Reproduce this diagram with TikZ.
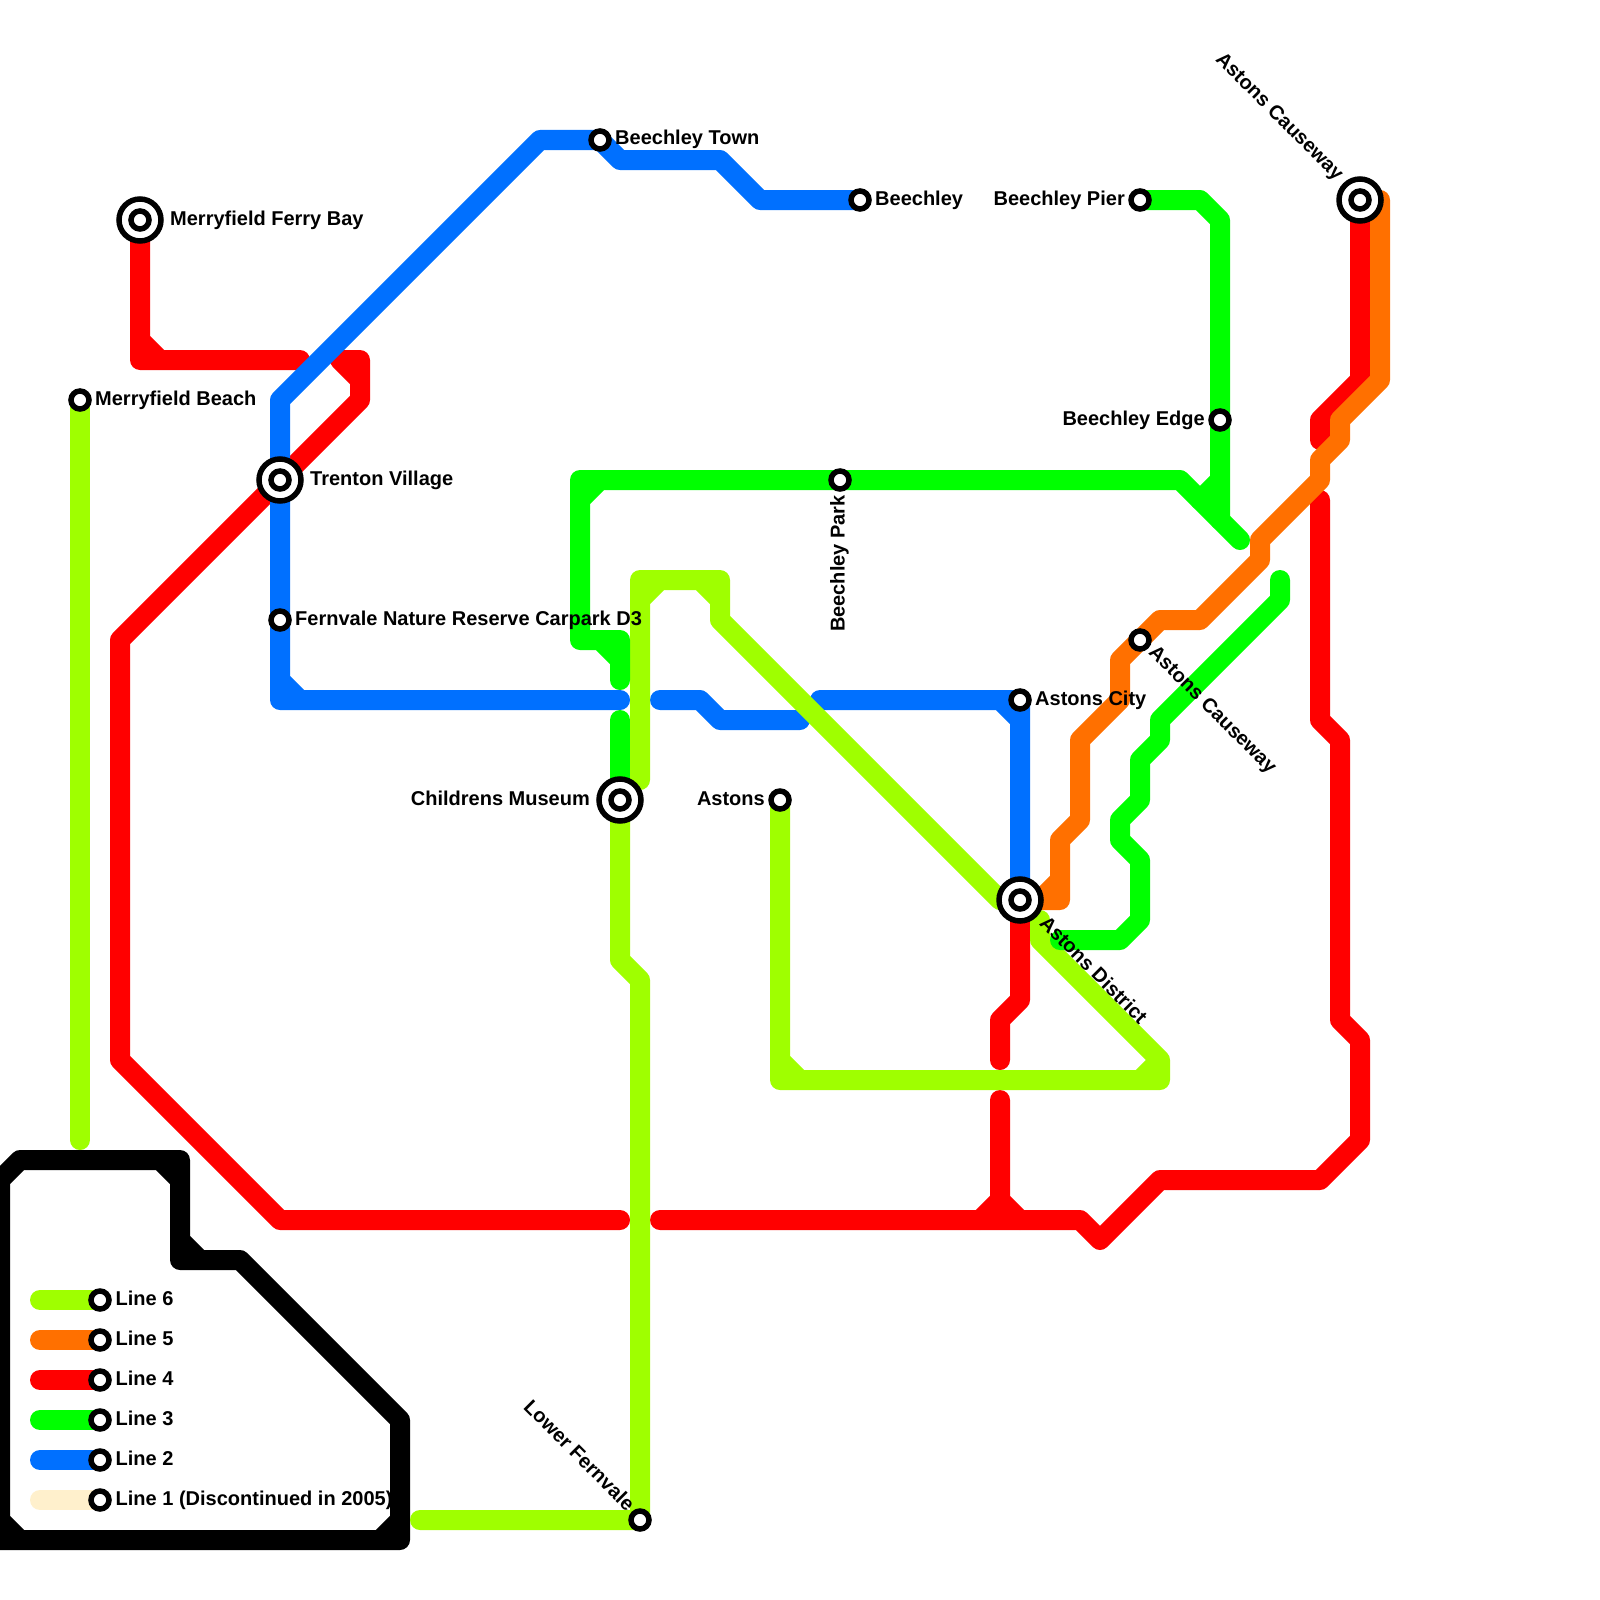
\documentclass[tikz,border=0pt]{standalone}
\usepackage{fontspec}
\setmainfont{Liberation Sans}
\usepackage{tikz}

\definecolor{colsix}{HTML}{9FFF00}
\definecolor{colfive}{HTML}{FF7000}
\definecolor{colfour}{HTML}{FF0000}
\definecolor{colthree}{HTML}{00FF00}
\definecolor{coltwo}{HTML}{0070FF}
\definecolor{colone}{HTML}{FFF0CC}

\tikzset{
  metro/.style={line width=20pt,line cap=round,line join=round},
  linesix/.style={metro,colsix},
  linefive/.style={metro,colfive},
  linefour/.style={metro,colfour},
  linethree/.style={metro,colthree},
  linetwo/.style={metro,coltwo},
  lineone/.style={metro,colone},
  frame/.style={metro,black},
  station/.style={circle,draw=black,fill=white,line width=5.5pt,minimum size=18pt,inner sep=0pt},
  hub/.style={circle,draw=black,fill=white,line width=5.5pt,minimum size=42pt,inner sep=0pt},
  stationtext/.style={font=\bfseries\fontsize{20pt}{20pt}\selectfont,inner sep=0pt,text=black}
}

\begin{document}
\begin{tikzpicture}[x=1pt,y=-1pt]
        \useasboundingbox (0,0) rectangle (1600,1600);
        \coordinate (ferrybay) at (140,220);
        \coordinate (beach) at (80,400);
        \coordinate (trenton) at (280,480);
        \coordinate (fernvale) at (280,620);
        \coordinate (town) at (600,140);
        \coordinate (beechley) at (860,200);
        \coordinate (pier) at (1140,200);
        \coordinate (edge) at (1220,420);
        \coordinate (park) at (840,480);
        \coordinate (city) at (1020,700);
        \coordinate (causeway) at (1140,640);
        \coordinate (causewaytop) at (1360,200);
        \coordinate (district) at (1020,900);
        \coordinate (astons) at (780,800);
        \coordinate (museum) at (620,800);
        \coordinate (lower) at (640,1520);
        \coordinate (keysix) at (100,1300);
        \coordinate (keyfive) at (100,1340);
        \coordinate (keyfour) at (100,1380);
        \coordinate (keythree) at (100,1420);
        \coordinate (keytwo) at (100,1460);
        \coordinate (keyone) at (100,1500);
        \draw [frame] (0,1180) -- (20,1160) -- (180,1160) -- (180,1260) -- (240,1260) -- (400,1420) -- (400,1540) -- (0,1540) -- cycle
          (160,1160) -- (180,1180) (180,1240) -- (200,1260) (400,1520) -- (380,1540) (0,1520) -- (20,1540);
        \draw [linefour] (ferrybay) -- (140,360) -- (300,360) (140,340) -- (160,360);
        \draw [linefour] (340,360) -- (360,360) -- (360,400) -- (120,640) -- (120,1060) -- (280,1220) -- (620,1220) (340,360) -- (360,380);
        \draw [linefour] (660,1220) -- (1080,1220) -- (1100,1240) -- (1160,1180) -- (1320,1180) -- (1360,1140) -- (1360,1040) -- (1340,1020) -- (1340,740) -- (1320,720) -- (1320,500);
        \draw [linefour] (1000,1100) -- (1000,1200) -- (980,1220) (1000,1200) -- (1020,1220);
        \draw [linefour] (district) -- (1020,1000) -- (1000,1020) -- (1000,1060);
        \draw [linefour] (causewaytop) -- (1360,380) -- (1320,420) -- (1320,440);
        \draw [linetwo] (beechley) -- (760,200) -- (720,160) -- (620,160) -- (town) -- (540,140) -- (280,400) -- (280,700) -- (620,700) (280,680) -- (300,700);
        \draw [linetwo] (660,700) -- (700,700) -- (720,720) -- (800,720);
        \draw [linetwo] (820,700) -- (city) -- (district) (1000,700) -- (1020,720);
        \draw [linefive] (causewaytop) -- (1380,200) -- (1380,380) -- (1340,420) -- (1340,440) -- (1320,460) -- (1320,480) -- (1260,540) -- (1260,560) -- (1200,620) -- (1160,620) -- (1120,660) -- (1120,700) -- (1080,740) -- (1080,820) -- (1060,840) -- (1060,900) -- (district) (1040,900) -- (1060,880);
        \draw [linesix] (beach) -- (80,1140);
        \draw [linesix] (420,1520) -- (lower) -- (640,980) -- (620,960) -- (museum);
        \draw [linesix] (640,780) -- (640,580) -- (720,580) -- (720,620) -- (1000,900)
          (640,600) -- (660,580) (700,580) -- (720,600);
        \draw [linesix] (1040,920) -- (1040,940) -- (1160,1060) -- (1160,1080) -- (780,1080) -- (astons)
          (1140,1080) -- (1160,1060) (780,1060) -- (800,1080);
        \draw [linethree] (pier) -- (1200,200) -- (1220,220) -- (1220,520) (1200,500) -- (1220,480);
        \draw [linethree] (1240,540) -- (1180,480) -- (580,480) -- (580,640) -- (620,640) -- (620,680) (580,500) -- (600,480) (600,640) -- (620,660);
        \draw [linethree] (620,720) -- (museum);
        \draw [linethree] (1280,580) -- (1280,600) -- (1160,720) -- (1160,740) -- (1140,760) -- (1140,800) -- (1120,820) -- (1120,840) -- (1140,860) -- (1140,920) -- (1120,940) -- (1060,940);
        \draw [linesix] (40,1300) -- (keysix);
        \draw [linefive] (40,1340) -- (keyfive);
        \draw [linefour] (40,1380) -- (keyfour);
        \draw [linethree] (40,1420) -- (keythree);
        \draw [linetwo] (40,1460) -- (keytwo);
        \draw [lineone] (40,1500) -- (keyone);
        \node [hub] (nferrybay) at (ferrybay) {};
        \node [station] (nferrybayin) at (ferrybay) {};
        \node [hub] (ntrenton) at (trenton) {};
        \node [station] (ntrentonin) at (trenton) {};
        \node [hub] (ncausewaytop) at (causewaytop) {};
        \node [station] (ncausewaytopin) at (causewaytop) {};
        \node [hub] (ndistrict) at (district) {};
        \node [station] (ndistrictin) at (district) {};
        \node [hub] (nmuseum) at (museum) {};
        \node [station] (nmuseumin) at (museum) {};
        \node [station] (nbeach) at (beach) {};
        \node [station] (nfernvale) at (fernvale) {};
        \node [station] (ntown) at (town) {};
        \node [station] (nbeechley) at (beechley) {};
        \node [station] (npier) at (pier) {};
        \node [station] (nedge) at (edge) {};
        \node [station] (npark) at (park) {};
        \node [station] (ncity) at (city) {};
        \node [station] (ncauseway) at (causeway) {};
        \node [station] (nastons) at (astons) {};
        \node [station] (nlower) at (lower) {};
        \node [station] (nkeysix) at (keysix) {};
        \node [station] (nkeyfive) at (keyfive) {};
        \node [station] (nkeyfour) at (keyfour) {};
        \node [station] (nkeythree) at (keythree) {};
        \node [station] (nkeytwo) at (keytwo) {};
        \node [station] (nkeyone) at (keyone) {};
        \node [stationtext,anchor=base west] (tferrybay) at (170,225) {Merryfield Ferry Bay};
        \node [stationtext,anchor=base west] (tbeach) at (95,405) {Merryfield Beach};
        \node [stationtext,anchor=base west] (ttrenton) at (310,485) {Trenton Village};
        \node [stationtext,anchor=base west] (tfernvale) at (295,625) {Fernvale Nature Reserve Carpark D3};
        \node [stationtext,anchor=base west] (ttown) at (615,145) {Beechley Town};
        \node [stationtext,anchor=base west] (tbeechley) at (875,205) {Beechley};
        \node [stationtext,anchor=base east] (tpier) at (1125,205) {Beechley Pier};
        \node [stationtext,anchor=base east] (tedge) at (1205,425) {Beechley Edge};
        \node [stationtext,anchor=base west] (tcity) at (1035,705) {Astons City};
        \node [stationtext,anchor=base east] (tastons) at (765,805) {Astons};
        \node [stationtext,anchor=base east] (tmuseum) at (590,805) {Childrens Museum};
        \node [stationtext,anchor=base east,rotate=90] (tpark) at (844.5,495) {Beechley Park};
        \node [stationtext,anchor=base west,rotate=-45] (tcauseway) at (1147.8,653.4) {Astons Causeway};
        \node [stationtext,anchor=base west,rotate=-45] (tdistrict) at (1038.4,924) {Astons District};
        \node [stationtext,anchor=base east,rotate=-45] (tcausewaytop) at (1336,181.6) {Astons Causeway};
        \node [stationtext,anchor=base east,rotate=-45] (tlower) at (626.6,1512.2) {Lower Fernvale};
        \node [stationtext,anchor=base west] (tkeysix) at (115.5,1305) {Line 6};
        \node [stationtext,anchor=base west] (tkeyfive) at (115.5,1345) {Line 5};
        \node [stationtext,anchor=base west] (tkeyfour) at (115.5,1385) {Line 4};
        \node [stationtext,anchor=base west] (tkeythree) at (115.5,1425) {Line 3};
        \node [stationtext,anchor=base west] (tkeytwo) at (115.5,1465) {Line 2};
        \node [stationtext,anchor=base west] (tkeyone) at (115.5,1505) {Line 1 (Discontinued in 2005)};
\end{tikzpicture}
\end{document}
